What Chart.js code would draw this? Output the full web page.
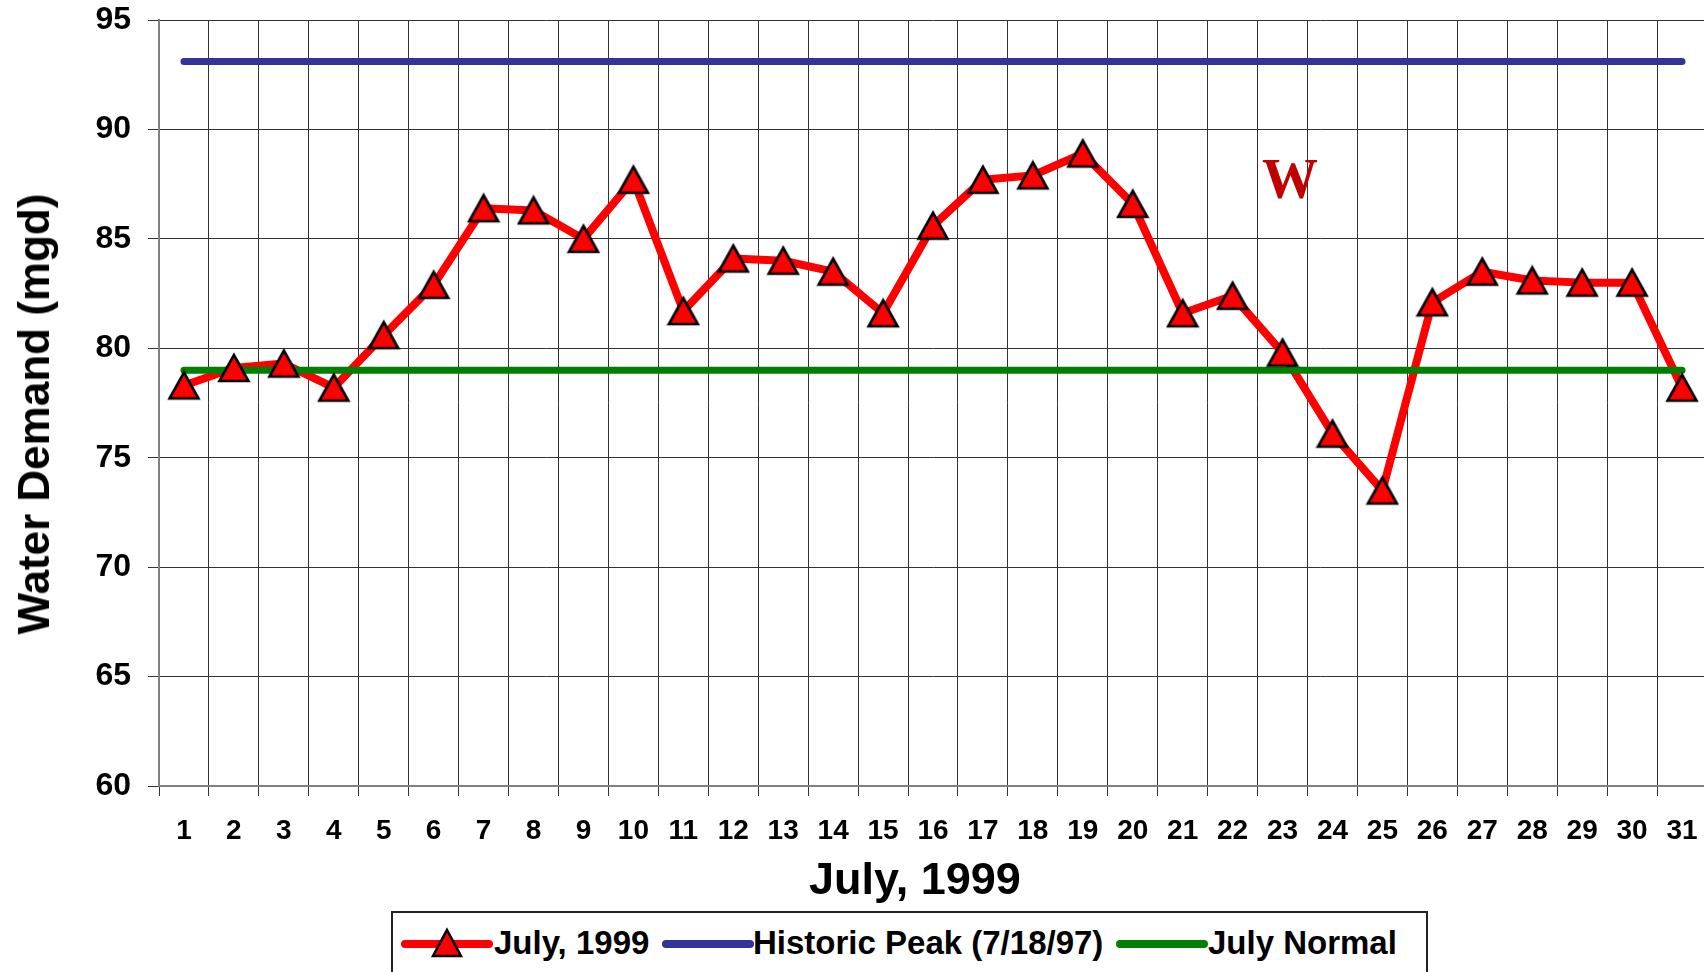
<!DOCTYPE html>
<html>
<head>
<meta charset="utf-8">
<script src="https://cdn.jsdelivr.net/npm/chart.js@4.4.0/dist/chart.umd.min.js"></script>
<style>
  html, body { margin: 0; padding: 0; background: #fff; overflow: hidden; }
  #wrap { position: relative; width: 1704px; height: 972px; overflow: hidden; }
  #chart { position: absolute; left: 0; top: 0; }
  #xtitle {
    position: absolute; left: 715px; width: 400px; top: 853px; height: 50px; line-height: 50px;
    text-align: center; font: bold 45px "Liberation Sans", Arial, sans-serif; color: #000;
  }
  #ytitle {
    position: absolute; left: 34px; top: 414px; white-space: nowrap; line-height: 44px;
    transform: translate(-50%, -50%) rotate(-90deg);
    font: bold 44px "Liberation Sans", Arial, sans-serif; color: #000;
  }
  #legend {
    position: absolute; left: 391px; top: 911px; width: 1037px; height: 64px;
    box-sizing: border-box; border: 2px solid #222; background: #fff;
    font: bold 33px "Liberation Sans", Arial, sans-serif; color: #000;
  }
  #legend svg, #legend span { position: absolute; }
  #legend svg { top: 14px; }
  #legend span { top: 11px; line-height: 38px; white-space: nowrap; }
</style>
</head>
<body>
<div id="wrap">
  <canvas id="chart" width="1724" height="972"></canvas>
  <div id="ytitle">Water Demand (mgd)</div>
  <div id="xtitle">July, 1999</div>
  <div id="legend">
    <svg style="left:7px" width="94" height="34"><line x1="5" y1="17" x2="89" y2="17" stroke="#ff0000" stroke-width="8" stroke-linecap="round"/>
      <polygon points="47,3 61,29 33,29" fill="#ff0000" stroke="#000" stroke-width="2.5"/></svg>
    <span style="left:101px">July, 1999</span>
    <svg style="left:268px" width="94" height="34"><line x1="5" y1="17" x2="89" y2="17" stroke="#333399" stroke-width="8" stroke-linecap="round"/></svg>
    <span style="left:360px">Historic Peak (7/18/97)</span>
    <svg style="left:722px" width="94" height="34"><line x1="5" y1="17" x2="89" y2="17" stroke="#008000" stroke-width="8" stroke-linecap="round"/></svg>
    <span style="left:815px">July Normal</span>
  </div>
</div>
<script>
const days = ['1','2','3','4','5','6','7','8','9','10','11','12','13','14','15','16',
  '17','18','19','20','21','22','23','24','25','26','27','28','29','30','31'];

const july1999 = [78.3, 79.1, 79.3, 78.2, 80.6, 82.9, 86.4, 86.3, 85.0, 87.7, 81.7,
  84.1, 84.0, 83.5, 81.6, 85.6, 87.7, 87.9, 88.9, 86.6, 81.6, 82.4, 79.8, 76.1,
  73.5, 82.1, 83.5, 83.1, 83.0, 83.0, 78.2];

const historicPeak = [93.1, 93.1, 93.1, 93.1, 93.1, 93.1, 93.1, 93.1, 93.1, 93.1, 93.1,
  93.1, 93.1, 93.1, 93.1, 93.1, 93.1, 93.1, 93.1, 93.1, 93.1, 93.1, 93.1, 93.1,
  93.1, 93.1, 93.1, 93.1, 93.1, 93.1, 93.1];

const julyNormal = [79.0, 79.0, 79.0, 79.0, 79.0, 79.0, 79.0, 79.0, 79.0, 79.0, 79.0,
  79.0, 79.0, 79.0, 79.0, 79.0, 79.0, 79.0, 79.0, 79.0, 79.0, 79.0, 79.0, 79.0,
  79.0, 79.0, 79.0, 79.0, 79.0, 79.0, 79.0];

const yTicks = { min: 60, max: 95, step: 5 };

// the "W" note sits between days 23 and 24
const note = { index: 22.15, value: 87.55, text: 'W' };

Chart.defaults.font.family = '"Liberation Sans", Arial, sans-serif';

// excel style triangle, centred on its bounding box
function makeTriangle() {
  const c = document.createElement('canvas');
  c.width = 34; c.height = 32;
  const g = c.getContext('2d');
  g.beginPath();
  g.moveTo(17, 3);
  g.lineTo(31.5, 29);
  g.lineTo(2.5, 29);
  g.closePath();
  g.fillStyle = '#ff0000';
  g.fill();
  g.lineWidth = 2.6;
  g.strokeStyle = '#000';
  g.stroke();
  return c;
}
const tri = makeTriangle();

const notePlugin = {
  id: 'note',
  afterDatasetsDraw(chart) {
    const { ctx, scales } = chart;
    ctx.save();
    ctx.font = 'bold 56px "Liberation Serif", "Times New Roman", serif';
    ctx.fillStyle = '#c00000';
    ctx.textAlign = 'center';
    ctx.textBaseline = 'middle';
    ctx.fillText(note.text, scales.x.getPixelForValue(note.index), scales.y.getPixelForValue(note.value));
    ctx.restore();
  }
};

new Chart(document.getElementById('chart'), {
  type: 'line',
  data: {
    labels: days,
    datasets: [
      { label: 'July, 1999 markers', data: july1999, showLine: false, pointStyle: tri, pointRadius: 16, order: 0 },
      { label: 'July Normal', data: julyNormal, borderColor: '#008000', borderWidth: 7, borderCapStyle: 'round', pointRadius: 0, order: 1 },
      { label: 'Historic Peak (7/18/97)', data: historicPeak, borderColor: '#333399', borderWidth: 7, borderCapStyle: 'round', pointRadius: 0, order: 2 },
      { label: 'July, 1999', data: july1999, borderColor: '#ff0000', borderWidth: 8, borderCapStyle: 'round', borderJoinStyle: 'round', pointRadius: 0, tension: 0, order: 3 },
    ],
  },
  options: {
    responsive: false,
    animation: false,
    events: [],
    layout: { padding: { top: 20, right: 2, bottom: 73, left: 0 } },
    plugins: { legend: { display: false }, tooltip: { enabled: false } },
    scales: {
      x: {
        offset: true,
        grid: { offset: true, color: '#333', lineWidth: 1, tickLength: 10 },
        border: { color: '#808080', width: 2 },
        ticks: { color: '#000', font: { size: 28, weight: 'bold' }, padding: 18, maxRotation: 0, autoSkip: false },
        afterFit: s => { s.height = 113; },
      },
      y: {
        min: yTicks.min,
        max: yTicks.max,
        ticks: { stepSize: yTicks.step, color: '#000', font: { size: 32, weight: 'bold' }, padding: 17 },
        grid: { color: '#333', lineWidth: 1, tickLength: 11 },
        border: { color: '#808080', width: 2 },
        afterFit: s => { s.width = 159; s.paddingTop = 0; s.paddingBottom = 0; },
      },
    },
  },
  plugins: [notePlugin],
});
</script>
</body>
</html>
